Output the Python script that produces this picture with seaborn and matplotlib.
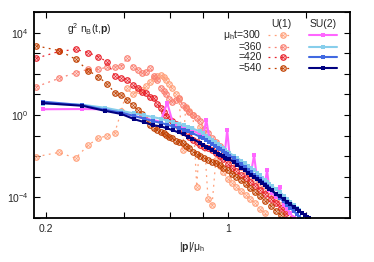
"""
Occupation spectra g^2 n_B(t,p): U(1) vs SU(2) at several times.
"""

import numpy as np
import pandas as pd
import matplotlib
matplotlib.use("Agg")
import matplotlib.pyplot as plt
import seaborn as sns
from matplotlib.ticker import FixedLocator, NullFormatter

sns.set_style("ticks")
plt.rcParams['font.family'] = ['Liberation Sans', 'DejaVu Sans']
plt.rcParams['mathtext.fontset'] = 'custom'
plt.rcParams['mathtext.rm'] = 'Liberation Sans'
plt.rcParams['mathtext.it'] = 'Liberation Sans:italic'
plt.rcParams['mathtext.bf'] = 'Liberation Sans:bold'

# ---- data (y values given as log10 of g^2 n_B) ----
times = [300, 360, 420, 540]

x_u1 = [0.184, 0.225, 0.26, 0.291, 0.318, 0.344, 0.368, 0.39, 0.411, 0.431,
        0.45, 0.469, 0.486, 0.504, 0.52, 0.536, 0.552, 0.567, 0.581, 0.596,
        0.61, 0.63, 0.65, 0.67, 0.69, 0.71, 0.735, 0.76, 0.785, 0.81,
        0.84, 0.87, 0.9, 0.93, 0.96, 1.0, 1.04, 1.08, 1.12, 1.17,
        1.22, 1.27, 1.33, 1.39, 1.46, 1.53, 1.6, 1.68, 1.76, 1.85]

u1_300 = [-2.03, -1.82, -2.11, -1.46, -1.14, -1.0, -0.86, 0.2, 1.3, 1.0,
          1.2, 1.22, 1.4, 1.6, 1.79, 1.9, 1.95, 1.85, 1.7, 1.5,
          1.3, 1.0, 0.8, -1.7, 0.4, 0.2, 0.0, -3.5, -0.6, -1.0,
          -4.1, -4.4, -2.2, -2.5, -2.8, -3.1, -3.3, -3.5, -3.7, -3.9,
          -4.1, -4.3, -4.6, -4.8, -5.2, -5.5, -5.8, -6.0, -6.2, -6.5]
u1_360 = [1.38, 1.79, 2.06, 2.23, 2.23, 2.33, 2.33, 2.39, 2.78, 2.36,
          2.2, 2.03, 2.1, 2.28, 1.9, 1.71, 1.3, 1.15, 1.0, 0.8,
          0.65, 0.75, 0.81, 0.49, 0.35, 0.16, 0.0, -0.15, -0.3, -0.7,
          -0.9, -1.1, -1.3, -1.5, -1.7, -1.95, -2.15, -2.35, -2.55, -2.75,
          -2.95, -3.15, -3.4, -3.65, -3.9, -4.15, -4.4, -4.7, -5.0, -5.3]
u1_420 = [2.77, 3.1, 3.2, 3.04, 2.84, 2.59, 1.9, 1.82, 1.71, 1.46,
          1.3, 1.14, 1.06, 0.9, 0.81, 0.55, 0.33, 0.15, -0.05, -0.2,
          -0.3, -0.45, -0.6, -0.75, -0.9, -1.05, -1.2, -1.32, -1.45, -1.55,
          -1.62, -1.7, -1.85, -2.0, -2.15, -2.38, -2.58, -2.75, -2.9, -3.08,
          -3.25, -3.45, -3.65, -3.85, -4.08, -4.3, -4.55, -4.8, -5.05, -5.4]
u1_540 = [3.37, 3.14, 2.72, 2.16, 1.87, 1.5, 1.09, 0.96, 0.73, 0.49,
          0.25, 0.05, -0.25, -0.5, -0.62, -0.72, -0.82, -0.9, -0.98, -1.08,
          -1.12, -1.25, -1.3, -1.38, -1.5, -1.62, -1.78, -1.88, -1.98, -2.1,
          -2.2, -2.28, -2.36, -2.46, -2.56, -2.7, -2.86, -3.0, -3.18, -3.36,
          -3.56, -3.74, -3.96, -4.18, -4.42, -4.66, -4.88, -5.1, -5.4, -5.7]

x_su2 = [0.195, 0.276, 0.338, 0.39, 0.436, 0.478, 0.516, 0.552, 0.585, 0.617,
         0.647, 0.676, 0.703, 0.73, 0.78, 0.804, 0.827, 0.85, 0.872, 0.894,
         0.915, 0.936, 0.956, 0.976, 0.995, 1.015, 1.053, 1.09, 1.127, 1.162,
         1.196, 1.23, 1.262, 1.294, 1.326, 1.356, 1.386, 1.416, 1.445, 1.474,
         1.53, 1.585, 1.638, 1.69, 1.74, 1.79, 1.838, 1.885, 1.93, 1.975,
         2.02, 2.06]

su2_300 = [0.28, 0.29, 0.28, 0.1, -0.05, -0.15, -0.25, -0.32, 0.6, -0.45,
           -0.52, -0.6, -0.68, -0.75, -0.92, -1.0, -0.24, -1.15, -1.25, -1.35,
           -1.45, -1.55, -1.65, -1.75, -0.73, -1.9, -2.05, -2.2, -2.35, -2.5,
           -2.65, -2.8, -1.95, -3.05, -3.18, -3.3, -3.42, -2.68, -3.65, -3.78,
           -4.0, -3.5, -4.4, -4.6, -4.8, -5.0, -5.2, -5.4, -5.6, -5.8,
           -6.0, -6.2]
su2_360 = [0.55, 0.5, 0.35, 0.2, 0.08, -0.02, -0.1, -0.18, -0.27, -0.35,
           -0.42, -0.5, -0.58, -0.65, -0.8, -0.9, -1.0, -1.1, -1.2, -1.3,
           -1.4, -1.5, -1.6, -1.7, -1.78, -1.85, -1.98, -2.1, -2.23, -2.35,
           -2.47, -2.58, -2.7, -2.82, -2.94, -3.05, -3.16, -3.27, -3.37, -3.47,
           -3.6, -3.77, -3.93, -4.08, -4.23, -4.38, -4.52, -4.65, -4.78, -4.9,
           -5.0, -5.12]
su2_420 = [0.65, 0.48, 0.25, 0.12, -0.05, -0.18, -0.3, -0.38, -0.47, -0.56,
           -0.64, -0.72, -0.8, -0.88, -1.05, -1.14, -1.24, -1.33, -1.42, -1.52,
           -1.6, -1.68, -1.77, -1.85, -1.92, -1.98, -2.12, -2.26, -2.4, -2.53,
           -2.66, -2.78, -2.9, -3.02, -3.14, -3.25, -3.36, -3.47, -3.57, -3.67,
           -3.86, -4.04, -4.21, -4.37, -4.53, -4.68, -4.82, -4.95, -5.08, -5.2,
           -5.3, -5.4]
su2_540 = [0.58, 0.45, 0.2, 0.05, -0.2, -0.35, -0.5, -0.55, -0.65, -0.75,
           -0.85, -0.95, -1.05, -1.15, -1.35, -1.45, -1.55, -1.62, -1.72, -1.8,
           -1.88, -1.95, -2.02, -2.1, -2.16, -2.15, -2.3, -2.44, -2.58, -2.7,
           -2.82, -2.94, -3.04, -3.14, -3.24, -3.33, -3.42, -3.51, -3.59, -3.67,
           -3.83, -3.97, -4.1, -4.23, -4.35, -4.47, -4.57, -4.68, -4.77, -4.87,
           -4.96, -5.04]

u1_series = [u1_300, u1_360, u1_420, u1_540]
su2_series = [su2_300, su2_360, su2_420, su2_540]
u1_colors = ['#ffa07a', '#fa8072', '#e8202a', '#c04000']
su2_colors = ['#ff66ff', '#87ceeb', '#4169e1', '#000080']

# ---- figure ----
fig = plt.figure(figsize=(3.74, 2.62), dpi=100)
ax = fig.add_axes([34 / 374, 44 / 262, 316 / 374, 206 / 262])

u1_dash = (0, (1.5, 3.5))
circ_ms = 3.9
for t, vals, col in zip(times, u1_series, u1_colors):
    df = pd.DataFrame({'p': x_u1, 'n': np.power(10.0, vals)})
    sns.lineplot(data=df, x='p', y='n', ax=ax, sort=False, estimator=None,
                 color=col, linewidth=0.9, linestyle=u1_dash,
                 marker='o', markersize=circ_ms, markerfacecolor='none',
                 markeredgecolor=col, markeredgewidth=0.9)
    ax.plot(df['p'], df['n'], linestyle='none', marker='x', markersize=1.8,
            markeredgewidth=0.6, color=col)

for t, vals, col in zip(times, su2_series, su2_colors):
    df = pd.DataFrame({'p': x_su2, 'n': np.power(10.0, vals)})
    sns.lineplot(data=df, x='p', y='n', ax=ax, sort=False, estimator=None,
                 color=col, linewidth=1.5, marker='s', markersize=3.0,
                 markeredgewidth=0, markerfacecolor=col)

ax.set_xscale('log')
ax.set_yscale('log')
ax.set_xlim(0.18, 2.95)
ax.set_ylim(10 ** -5.02, 10 ** 5.02)

ax.xaxis.set_major_locator(FixedLocator([0.2, 1]))
ax.set_xticklabels(['0.2', '1'])
ax.xaxis.set_minor_locator(FixedLocator([0.4, 0.6, 0.8, 2]))
ax.xaxis.set_minor_formatter(NullFormatter())
ax.yaxis.set_major_locator(FixedLocator([1e-4, 1e0, 1e4]))
ax.set_yticklabels(['10$^{-4}$', '10$^{0}$', '10$^{4}$'])
ax.yaxis.set_minor_locator(FixedLocator([10.0 ** k for k in range(-5, 6) if k % 4 != 0]))
ax.yaxis.set_minor_formatter(NullFormatter())

ax.tick_params(which='both', direction='in', top=True, right=True,
               length=4, width=0.8, labelsize=7.5, pad=4, color='black')
for s in ax.spines.values():
    s.set_linewidth(1.3)
    s.set_color('black')

ax.set_xlabel('|$\\mathbf{p}$|/μ$_\\mathrm{h}$', fontsize=7.5, labelpad=5)
ax.set_ylabel('')

ax.text(0.104, 0.917, 'g$^2$ n$_\\mathrm{B}$(t,$\\mathbf{p}$)', transform=ax.transAxes,
        fontsize=7.5, ha='left', va='center')

# ---- key in gnuplot style ----
ax.text(0.784, 0.942, 'U(1)', transform=ax.transAxes, fontsize=7.5, ha='center', va='center')
ax.text(0.915, 0.942, 'SU(2)', transform=ax.transAxes, fontsize=7.5, ha='center', va='center')
row_y = [0.888, 0.832, 0.780, 0.730]
row_labels = ['μ$_\\mathrm{h}$t=300', '=360', '=420', '=540']
for yy, lab, c1, c2 in zip(row_y, row_labels, u1_colors, su2_colors):
    ax.text(0.7206, yy, lab, transform=ax.transAxes, fontsize=7.5, ha='right', va='center')
    ax.plot([0.7405, 0.8196], [yy, yy], transform=ax.transAxes, color=c1,
            linewidth=0.9, linestyle=u1_dash, clip_on=False)
    ax.plot([0.787], [yy], transform=ax.transAxes, marker='o', markersize=circ_ms,
            markerfacecolor='none', markeredgecolor=c1, markeredgewidth=0.9)
    ax.plot([0.787], [yy], transform=ax.transAxes, marker='x', markersize=1.8,
            markeredgewidth=0.6, color=c1)
    ax.plot([0.870, 0.959], [yy, yy], transform=ax.transAxes, color=c2, linewidth=1.5)
    ax.plot([0.9146], [yy], transform=ax.transAxes, marker='s', markersize=3.0,
            markeredgewidth=0, color=c2)

fig.savefig('out.png', dpi=100)
